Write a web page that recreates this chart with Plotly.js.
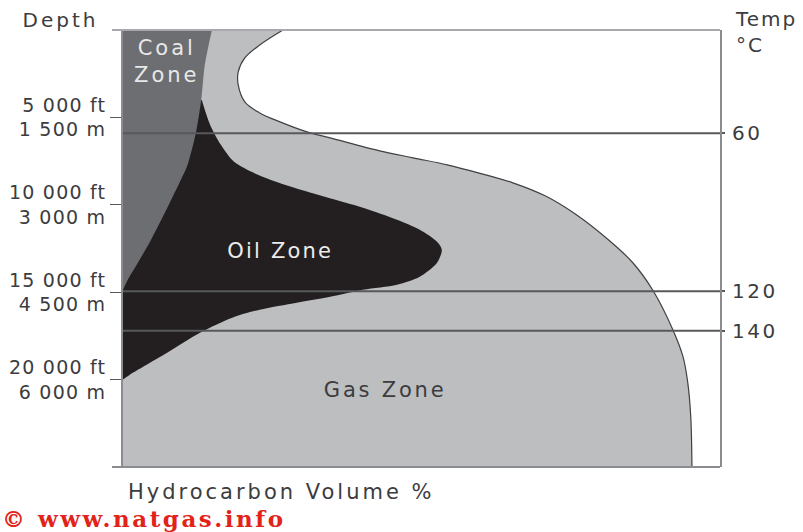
<!DOCTYPE html>
<html>
<head>
<meta charset="utf-8">
<script src="https://cdn.plot.ly/plotly-3.0.1.min.js"></script>
<style>
  html, body { margin: 0; padding: 0; background: #fff; }
  #chart { width: 803px; height: 532px; }
  g.annotation[data-index="0"] text { letter-spacing: 3px; }
  g.annotation[data-index="1"] text { letter-spacing: 2px; }
  g.annotation[data-index="2"] text { letter-spacing: 3px; }
  g.annotation[data-index="3"] text { letter-spacing: 2.2px; }
  g.annotation[data-index="4"] text { letter-spacing: 2.8px; }
  g.annotation[data-index="5"] text { letter-spacing: 3px; }
  g.annotation[data-index="6"] text { letter-spacing: 2.5px; }
  .ytick text, text.ytick { letter-spacing: 1.2px; }
  .y2tick text, text.y2tick { letter-spacing: 2.5px; }
</style>
</head>
<body>
<div id="chart"></div>
<script>
// ---- Data (depth in ft, hydrocarbon volume in %) ----
const depthTicksFt = [5000, 10000, 15000, 20000];
const depthTickText = ["5 000 ft<br>1 500 m", "10 000 ft<br>3 000 m", "15 000 ft<br>4 500 m", "20 000 ft<br>6 000 m"];

const tempDepthFt = [5900, 14950, 17200];
const tempLabels = ["60", "120", "140"];

// outer edge of the gas zone (gas / white boundary)
const gasDepthFt = [0, 857, 1600, 2400, 3143, 4114, 4743, 5257, 5829, 6171, 6914, 7314, 7714, 8171, 8743, 9486, 10514, 11943, 13314, 14914, 17143, 18686, 20171, 22114, 25000];
const gasEdgePct = [26.8, 22.9, 20.4, 19.3, 19.3, 20.4, 22.9, 26.3, 30.8, 34.7, 43.0, 48.6, 54.3, 59.5, 65.3, 70.7, 75.7, 81.1, 85.4, 88.8, 92.1, 93.8, 94.6, 95.1, 95.3];

// right edge of the coal zone
const coalDepthFt = [0, 2000, 4000, 5886, 7829, 8571, 10114, 12000, 13429, 14286, 14857];
const coalEdgePct = [14.9, 13.7, 13.1, 12.2, 10.7, 9.7, 7.5, 4.7, 2.3, 0.8, 0];

// right edge of the oil zone
const oilDepthFt = [4000, 5429, 6571, 7543, 8286, 8857, 9543, 10171, 10857, 11429, 12114, 12571, 13314, 14114, 14571, 14857, 15257, 15600, 16000, 16457, 17314, 18457, 19600, 20000];
const oilEdgePct = [13.2, 14.6, 16.4, 18.6, 22.6, 27.1, 33.8, 40.2, 45.9, 49.7, 52.6, 53.4, 52.6, 49.7, 45.9, 40.2, 34.7, 29.1, 22.9, 18.3, 12.9, 7.4, 1.7, 0];

const zoneNames = ["Coal<br>Zone", "Oil Zone", "Gas Zone"];

// ---- styling ----
const C_GAS = "#bcbec0", C_COAL = "#6d6e71", C_OIL = "#231f20";
const C_LINE = "#58595b", C_TEXT = "#3c3c3e", C_FRAME = "#8a8c8f";
const FONT = "DejaVu Sans";

// pixel helpers for the plot frame (left 123, right 720, top 30, bottom 467)
const PL = 123, PR = 720, PT = 30, PB = 467;
const px = v => (v - PL) / (PR - PL);
const py = v => (PB - v) / (PB - PT);

const tempX = [], tempY = [];
tempDepthFt.forEach((d, i) => {
  tempX.push(0, 100); tempY.push(d, d);
  if (i < tempDepthFt.length - 1) { tempX.push(null); tempY.push(null); }
});

const traces = [
  { x: gasEdgePct, y: gasDepthFt, type: "scatter", mode: "lines", fill: "tozerox",
    fillcolor: C_GAS, line: { color: "#414042", width: 1.2, shape: "spline", smoothing: 1 }, hoverinfo: "skip" },
  { x: oilEdgePct, y: oilDepthFt, type: "scatter", mode: "lines", fill: "tozerox",
    fillcolor: C_OIL, line: { color: C_OIL, width: 0, shape: "spline", smoothing: 0.8 }, hoverinfo: "skip" },
  { x: coalEdgePct, y: coalDepthFt, type: "scatter", mode: "lines", fill: "tozerox",
    fillcolor: C_COAL, line: { color: C_COAL, width: 0, shape: "spline", smoothing: 0.8 }, hoverinfo: "skip" },
  { x: tempX, y: tempY, yaxis: "y2", type: "scatter", mode: "lines",
    line: { color: C_LINE, width: 2 }, hoverinfo: "skip", connectgaps: false }
];

const ann = (text, x, y, opts) => Object.assign({
  text, x, y, xref: "paper", yref: "paper", showarrow: false,
  xanchor: "center", yanchor: "middle", align: "center",
  font: { family: FONT, size: 20, color: C_TEXT }
}, opts || {});

const layout = {
  width: 803, height: 532,
  margin: { l: PL, r: 803 - PR, t: PT, b: 532 - PB, pad: 0 },
  paper_bgcolor: "#ffffff", plot_bgcolor: "#ffffff",
  showlegend: false,
  font: { family: FONT, color: C_TEXT },
  xaxis: { range: [0, 100], showticklabels: false, ticks: "", showgrid: false, zeroline: false, showline: false, fixedrange: true },
  yaxis: { range: [25000, 0], tickvals: depthTicksFt, ticktext: depthTickText,
    ticks: "outside", ticklen: 11, tickwidth: 1, tickcolor: C_LINE,
    tickfont: { family: FONT, size: 19, color: C_TEXT },
    showgrid: false, zeroline: false, showline: true, linecolor: C_FRAME, linewidth: 2, layer: "above traces", fixedrange: true },
  yaxis2: { range: [25000, 0], overlaying: "y", side: "right", tickvals: tempDepthFt, ticktext: tempLabels,
    ticks: "outside", ticklen: 3, tickwidth: 2, tickcolor: C_LINE, ticklabelstandoff: 3,
    tickfont: { family: FONT, size: 20, color: C_TEXT },
    showgrid: false, zeroline: false, showline: true, linecolor: C_FRAME, linewidth: 2, fixedrange: true },
  shapes: [
    { type: "line", xref: "paper", yref: "paper", x0: px(112), x1: 1, y0: 1, y1: 1, line: { color: "#a7a9ac", width: 2 } },
    { type: "line", xref: "paper", yref: "paper", x0: px(112), x1: 1, y0: 0, y1: 0, line: { color: C_FRAME, width: 2 } }
  ],
  annotations: [
    ann("Depth", px(60), py(20), { font: { family: FONT, size: 20, color: C_TEXT } }),
    ann("Temp<br>°C", px(733), py(31.5), { xanchor: "left", align: "left", font: { family: FONT, size: 20, color: C_TEXT } }),
    ann(zoneNames[0], px(166), py(62), { font: { family: FONT, size: 21, color: "#e8e8e9" } }),
    ann(zoneNames[1], px(280), py(251), { font: { family: FONT, size: 21, color: "#ececec" } }),
    ann(zoneNames[2], px(385), py(390), { font: { family: FONT, size: 21, color: C_TEXT } }),
    ann("Hydrocarbon Volume %", px(281), py(492), { font: { family: FONT, size: 21, color: C_TEXT } }),
    ann("© www.natgas.info", px(0), py(518), { xanchor: "left", align: "left",
      font: { family: "DejaVu Serif", size: 23, color: "#e2231a", weight: "bold" } })
  ]
};

Plotly.newPlot("chart", traces, layout, { displayModeBar: false, staticPlot: true });
</script>
</body>
</html>
